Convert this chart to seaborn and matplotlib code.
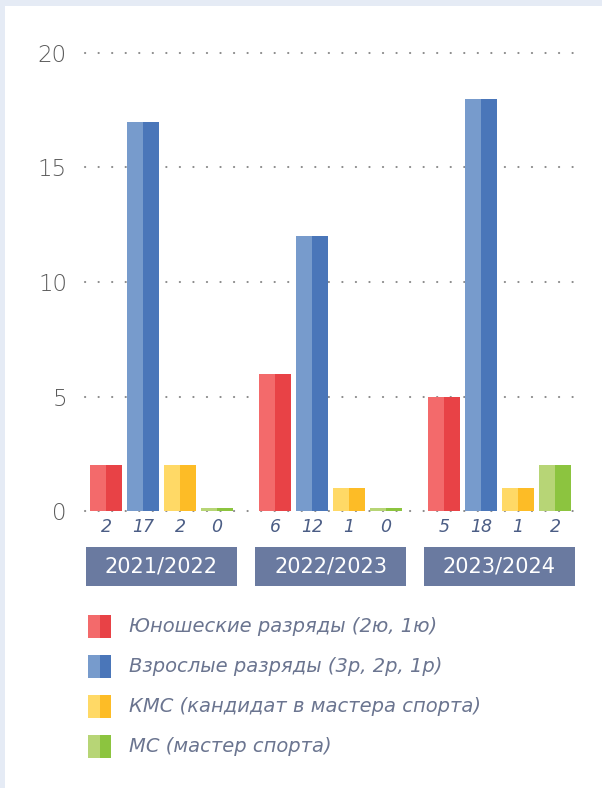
import pandas as pd
import numpy as np
import matplotlib.pyplot as plt
from matplotlib.patches import Rectangle
import seaborn as sns

# данные с картинки
years = ['2021/2022', '2022/2023', '2023/2024']
categories = ['Юношеские разряды (2ю, 1ю)',
              'Взрослые разряды (3р, 2р, 1р)',
              'КМС (кандидат в мастера спорта)',
              'МС (мастер спорта)']
yunosheskie = [2, 6, 5]
vzroslye = [17, 12, 18]
kms = [2, 1, 1]
ms = [0, 0, 2]

dark_colors = ['#e84246', '#4a76b9', '#fdbc26', '#8cc43f']
light_colors = ['#f36a6b', '#779bcc', '#ffd966', '#b7d576']

values = [yunosheskie, vzroslye, kms, ms]
rows = []
for cat, vals in zip(categories, values):
    for year, v in zip(years, vals):
        rows.append({'year': year, 'category': cat, 'value': v,
                     'shown': max(v, 0.13)})  # нулевые столбики видны как тонкая полоска
df = pd.DataFrame(rows)

sns.set_style('white')
plt.rcParams['font.family'] = ['DejaVu Sans']

W, H = 602, 788
fig = plt.figure(figsize=(W / 100, H / 100), dpi=100)
fig.patch.set_facecolor('#e5ebf5')
fig.patches.append(Rectangle((5 / W, 0), 1, 1 - 6 / H, transform=fig.transFigure,
                             facecolor='white', edgecolor='none', zorder=-5))

ax_left, ax_right, ax_top, ax_bottom = 85, 577, 53, 511
ax = fig.add_axes([ax_left / W, 1 - ax_bottom / H, (ax_right - ax_left) / W,
                   (ax_bottom - ax_top) / H])
ax.set_facecolor('none')

sns.barplot(data=df, x='year', y='shown', hue='category', order=years,
            hue_order=categories, palette=dark_colors, width=0.876, gap=0.135,
            saturation=1, errorbar=None, legend=False, ax=ax, zorder=3,
            linewidth=0, edgecolor='none')

# светлая левая половина каждого столбика
for cont, light in zip(ax.containers, light_colors):
    for p in cont:
        ax.add_patch(Rectangle((p.get_x(), p.get_y()), p.get_width() / 2, p.get_height(),
                               facecolor=light, edgecolor='none', linewidth=0, zorder=4))

# подписи значений под столбиками
for cont, vals in zip(ax.containers, values):
    for p, v in zip(cont, vals):
        ax.text(p.get_x() + p.get_width() / 2, -0.72, str(v), ha='center', va='center',
                fontsize=12.5, style='italic', color='#4b5d85', clip_on=False)

# плашки с годами
for i, year in enumerate(years):
    ax.add_patch(Rectangle((i - 0.449, -3.27), 0.898, 1.7, facecolor='#6a7aa0',
                           edgecolor='none', clip_on=False, zorder=3))
    ax.text(i, -2.42, year, ha='center', va='center', fontsize=15,
            color='white', clip_on=False, zorder=4)

ax.set_xlim((ax_left - 161.5) / 169, (ax_right - 161.5) / 169)
ax.set_ylim(0, 20)
ax.set_yticks([0, 5, 10, 15, 20])
ax.set_xticks([])
ax.set_xlabel('')
ax.set_ylabel('')
ax.tick_params(axis='y', length=0, pad=13, labelsize=16.5, labelcolor='#5a5a5a')
for lbl in ax.get_yticklabels():
    lbl.set_fontweight('light')
for y in [0, 5, 10, 15, 20]:
    ax.axhline(y, color='#8a8a8a', linewidth=1.5, linestyle=(0, (0.1, 6.4)),
               dash_capstyle='round', clip_on=False, zorder=1)
sns.despine(ax=ax, left=True, bottom=True)

# легенда
for k, (cat, dc, lc) in enumerate(zip(categories, dark_colors, light_colors)):
    yc = 626 + 40 * k
    fig.patches.append(Rectangle((88 / W, 1 - (yc + 11.5) / H), 12 / W, 23 / H,
                                 transform=fig.transFigure, facecolor=lc, edgecolor='none'))
    fig.patches.append(Rectangle((100 / W, 1 - (yc + 11.5) / H), 11 / W, 23 / H,
                                 transform=fig.transFigure, facecolor=dc, edgecolor='none'))
    fig.text(129 / W, 1 - yc / H, cat, ha='left', va='center', fontsize=14,
             style='italic', color='#6b7590')

plt.savefig('out.png', dpi=100)
